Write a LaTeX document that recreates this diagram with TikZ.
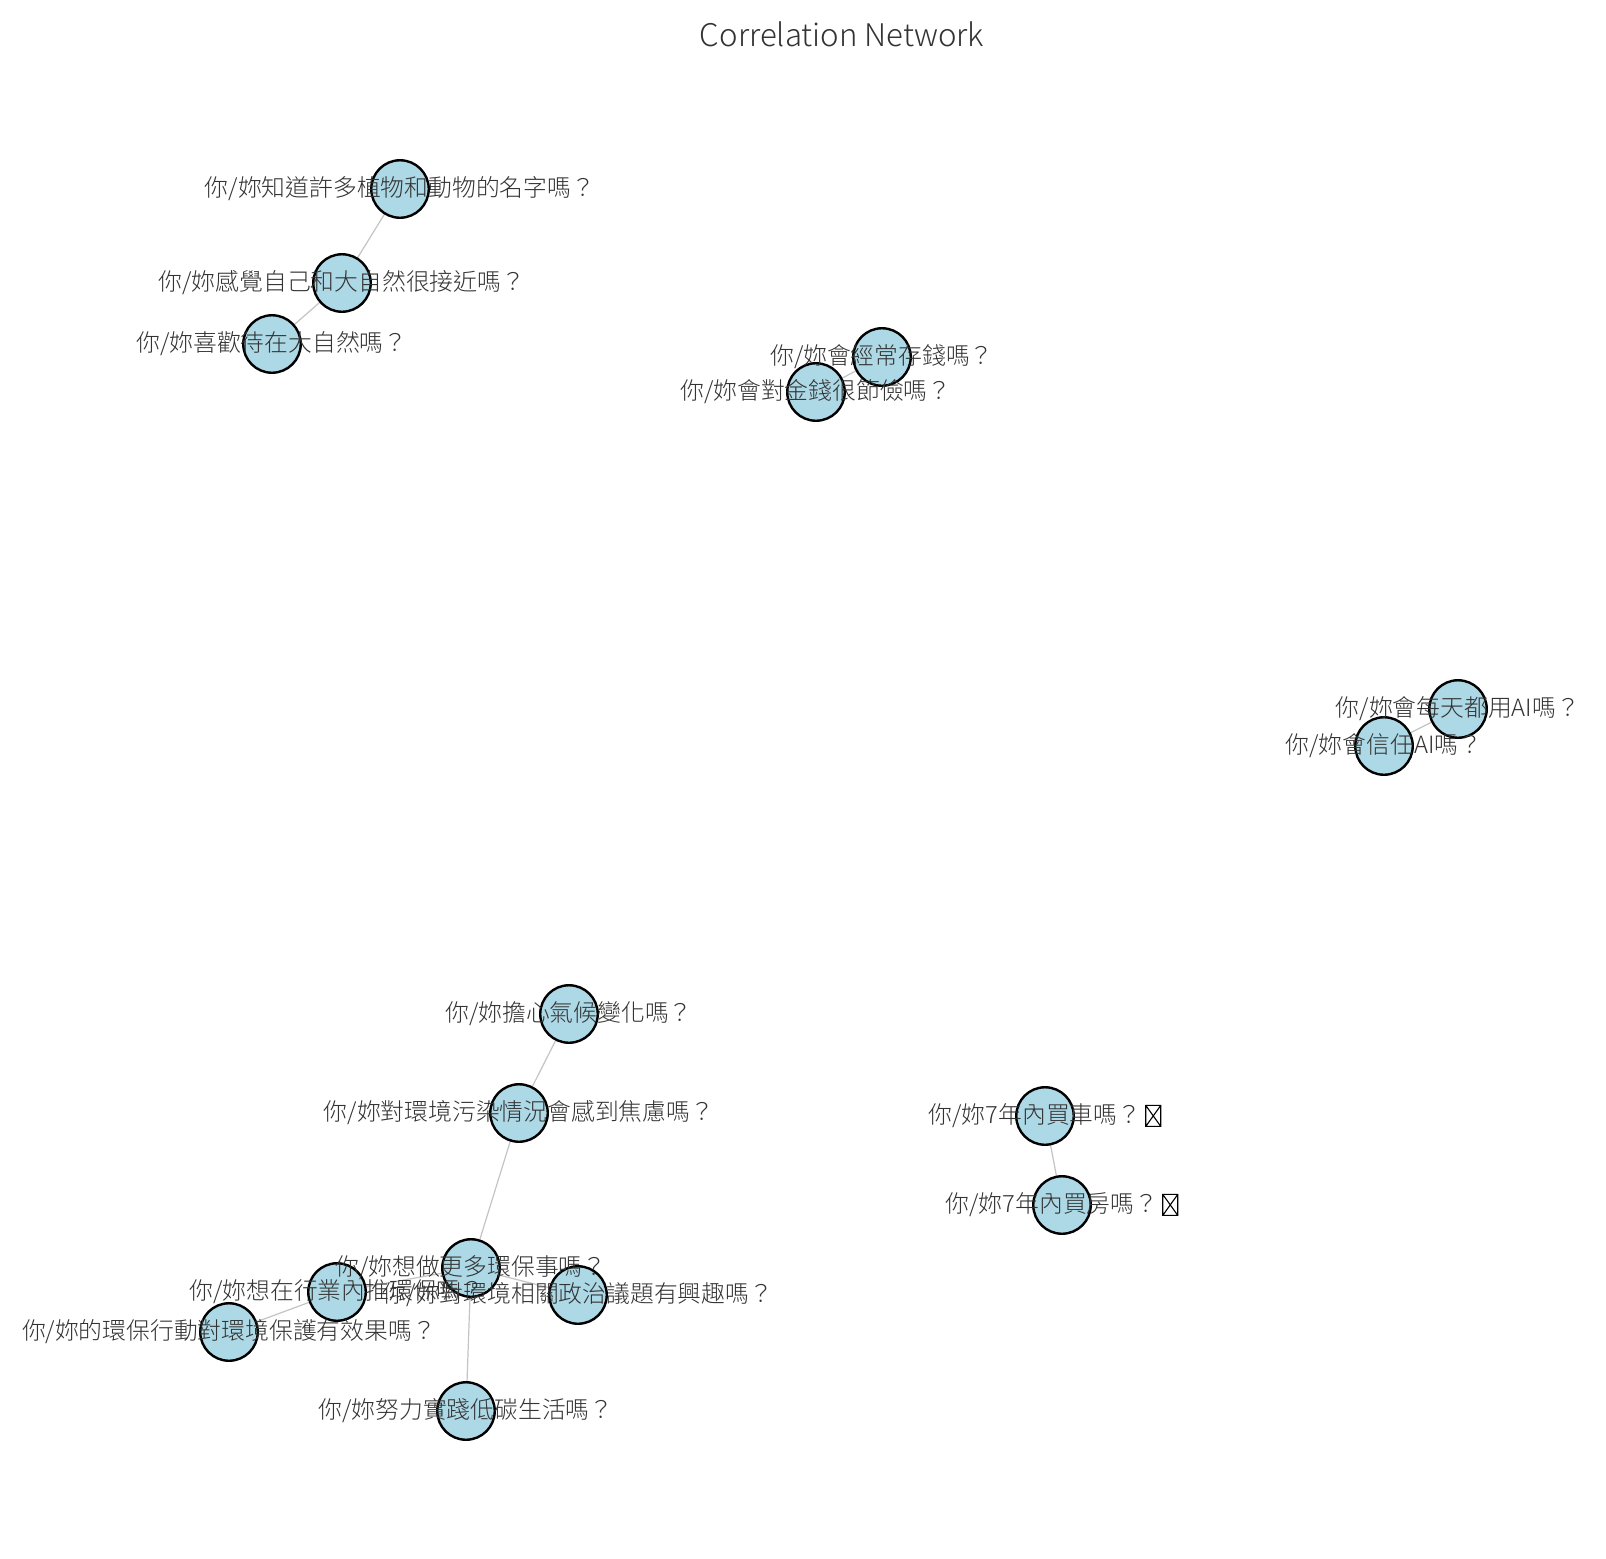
\documentclass[tikz,border=0pt]{standalone}
\usepackage{fontspec}
\newfontfamily\cjk{Noto Sans CJK TC}[UprightFont={* Light}]
\definecolor{nodeblue}{HTML}{ADD8E6}
\definecolor{linkgray}{HTML}{C4C4C4}
\definecolor{textgray}{HTML}{333333}
% box for the glyph the font had no shape for
\newcommand{\tofu}{\hspace{4pt}\tikz[baseline=0pt,x=1pt,y=1pt]
  \draw[line width=1.1pt,black] (0,-2.5) rectangle (15,18.5) (0,-2.5) -- (15,18.5) (0,18.5) -- (15,-2.5);}

\begin{document}
\begin{tikzpicture}[x=1pt,y=-1pt,
  qnode/.style={circle,draw=black,line width=2.4pt,fill=nodeblue,minimum size=57.5pt,inner sep=0pt},
  qtext/.style={text=textgray,inner sep=0pt,font=\cjk\fontsize{23.8}{28}\selectfont},
  link/.style={draw=linkgray,line width=1.2pt}]
  \useasboundingbox[fill=white] (0,0) rectangle (1606,1558);
  \node[text=textgray,font=\cjk\fontsize{31.2}{36}\selectfont] (title) at (842,34) {Correlation Network};

  \coordinate (plants) at (400,189);
  \coordinate (close) at (342,283);
  \coordinate (outdoors) at (272,344);
  \coordinate (saving) at (882,357);
  \coordinate (frugal) at (816,392);
  \coordinate (aidaily) at (1458,709);
  \coordinate (aitrust) at (1384,746);
  \coordinate (climate) at (569,1014);
  \coordinate (pollution) at (519,1113);
  \coordinate (domore) at (471,1268);
  \coordinate (politics) at (578,1295);
  \coordinate (industry) at (337,1292);
  \coordinate (effect) at (229,1332);
  \coordinate (lowcarbon) at (466,1411);
  \coordinate (car) at (1045,1116);
  \coordinate (house) at (1062,1205);

  \foreach \a/\b in {plants/close,close/outdoors,saving/frugal,aidaily/aitrust,
    climate/pollution,pollution/domore,domore/politics,domore/industry,
    industry/effect,domore/lowcarbon,car/house}
    \draw[link] (\a) -- (\b);

  \foreach \n in {plants,close,outdoors,saving,frugal,aidaily,aitrust,climate,
    pollution,domore,politics,industry,effect,lowcarbon,car,house}
    \node[qnode] (\n-c) at (\n) {};

  \node[qtext] (plants-t) at (plants) {你/妳知道許多植物和動物的名字嗎？};
  \node[qtext] (close-t) at (close) {你/妳感覺自己和大自然很接近嗎？};
  \node[qtext] (outdoors-t) at (outdoors) {你/妳喜歡待在大自然嗎？};
  \node[qtext] (saving-t) at (saving) {你/妳會經常存錢嗎？};
  \node[qtext] (frugal-t) at (frugal) {你/妳會對金錢很節儉嗎？};
  \node[qtext] (aidaily-t) at (aidaily) {你/妳會每天都用AI嗎？};
  \node[qtext] (aitrust-t) at (aitrust) {你/妳會信任AI嗎？};
  \node[qtext] (climate-t) at (climate) {你/妳擔心氣候變化嗎？};
  \node[qtext] (pollution-t) at (pollution) {你/妳對環境污染情況會感到焦慮嗎？};
  \node[qtext] (domore-t) at (domore) {你/妳想做更多環保事嗎？};
  \node[qtext] (politics-t) at (politics) {你/妳對環境相關政治議題有興趣嗎？};
  \node[qtext] (industry-t) at (industry) {你/妳想在行業內推環保嗎？};
  \node[qtext] (effect-t) at (effect) {你/妳的環保行動對環境保護有效果嗎？};
  \node[qtext] (lowcarbon-t) at (lowcarbon) {你/妳努力實踐低碳生活嗎？};
  \node[qtext] (car-t) at (car) {你/妳7年內買車嗎？\tofu};
  \node[qtext] (house-t) at (house) {你/妳7年內買房嗎？\tofu};
\end{tikzpicture}
\end{document}
